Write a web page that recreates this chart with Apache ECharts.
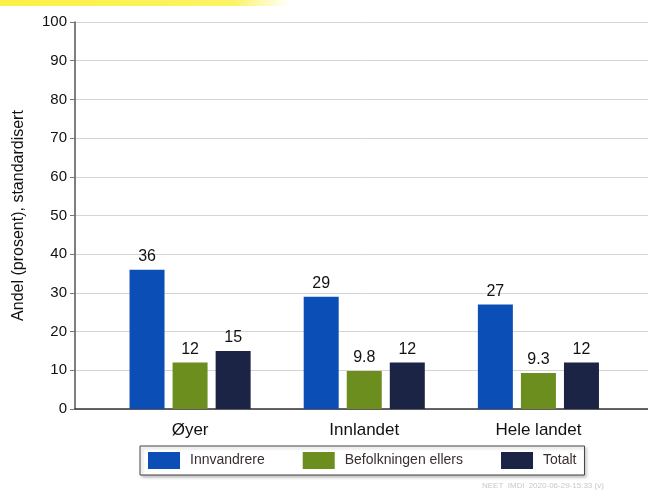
<!DOCTYPE html>
<html>
<head>
<meta charset="utf-8">
<script src="https://cdn.jsdelivr.net/npm/echarts@6/dist/echarts.min.js"></script>
<style>html,body{margin:0;padding:0;background:#fff;}#c{width:648px;height:495px;}</style>
</head>
<body>
<div id="c"></div>
<script>
var categories = ['Øyer', 'Innlandet', 'Hele landet'];
var seriesNames = ['Innvandrere', 'Befolkningen ellers', 'Totalt'];
var innvandrere = [36, 29, 27];
var befolkningenEllers = [12, 9.8, 9.3];
var totalt = [15, 12, 12];
var yTicks = [0, 10, 20, 30, 40, 50, 60, 70, 80, 90, 100];
var colors = ['#0b4fb6', '#6b8e1e', '#1b2444'];

var chart = echarts.init(document.getElementById('c'));
var labelStyle = { show: true, position: 'top', distance: 5, fontSize: 16, color: '#111', fontFamily: 'Liberation Sans' };
function mk(name, data, i) {
  return { name: name, type: 'bar', xAxisIndex: 0, yAxisIndex: 0, data: data, barWidth: 35, barGap: '23%',
    itemStyle: { color: colors[i] }, label: labelStyle };
}
chart.setOption({
  animation: false,
  textStyle: { fontFamily: 'Liberation Sans' },
  graphic: [
    { type: 'rect', shape: { x: 0, y: 0, width: 290, height: 6 }, style: { fill: new echarts.graphic.LinearGradient(0, 0, 1, 0, [{ offset: 0, color: 'rgba(250,240,60,0.95)' }, { offset: 0.8, color: 'rgba(250,240,60,0.8)' }, { offset: 1, color: 'rgba(250,240,60,0)' }]) }, z: 100 },
    { type: 'text', left: 482, top: 482, style: { text: 'NEET  IMDi  2020-06-29-15:33 (v)', fontSize: 8, fill: '#c8c8c8', fontFamily: 'Liberation Sans' } }
  ],
  grid: [
    { left: 103, right: 22.5, top: 22, bottom: 86 },
    { left: 75, right: 0, top: 22, bottom: 86 }
  ],
  legend: {
    data: seriesNames, left: 140, top: 446, orient: 'horizontal',
    itemWidth: 32, itemHeight: 17, itemGap: 38, padding: [6, 8, 6, 8],
    borderColor: '#444', borderWidth: 1, backgroundColor: '#fff',
    shadowColor: 'rgba(0,0,0,0.25)', shadowBlur: 3, shadowOffsetX: 2, shadowOffsetY: 2,
    textStyle: { fontSize: 14, color: '#3a2e2e', padding: [0, 0, 0, 5] },
    icon: 'rect'
  },
  xAxis: [
    { type: 'category', gridIndex: 0, data: categories, axisLine: { show: false }, axisTick: { show: false },
      axisLabel: { fontSize: 17, color: '#111', margin: 13 } },
    { type: 'value', gridIndex: 1, min: 0, max: 1, axisLine: { show: true, lineStyle: { color: '#333', width: 1.5 } },
      axisTick: { show: false }, axisLabel: { show: false }, splitLine: { show: false } }
  ],
  yAxis: [
    { type: 'value', gridIndex: 0, min: 0, max: 100, interval: 10, show: false },
    { type: 'value', gridIndex: 1, min: yTicks[0], max: yTicks[yTicks.length - 1], interval: 10,
      name: 'Andel (prosent), standardisert', nameLocation: 'middle', nameGap: 48, nameRotate: 90,
      nameTextStyle: { fontSize: 16, color: '#111' },
      axisLine: { show: true, lineStyle: { color: '#555', width: 1.5 } },
      axisTick: { show: true, length: 5, lineStyle: { color: '#777' } },
      axisLabel: { fontSize: 15, color: '#111', margin: 8 },
      splitLine: { show: true, lineStyle: { color: '#d4d4d4' } } }
  ],
  series: [
    mk(seriesNames[0], innvandrere, 0),
    mk(seriesNames[1], befolkningenEllers, 1),
    mk(seriesNames[2], totalt, 2)
  ]
});
</script>
</body>
</html>
